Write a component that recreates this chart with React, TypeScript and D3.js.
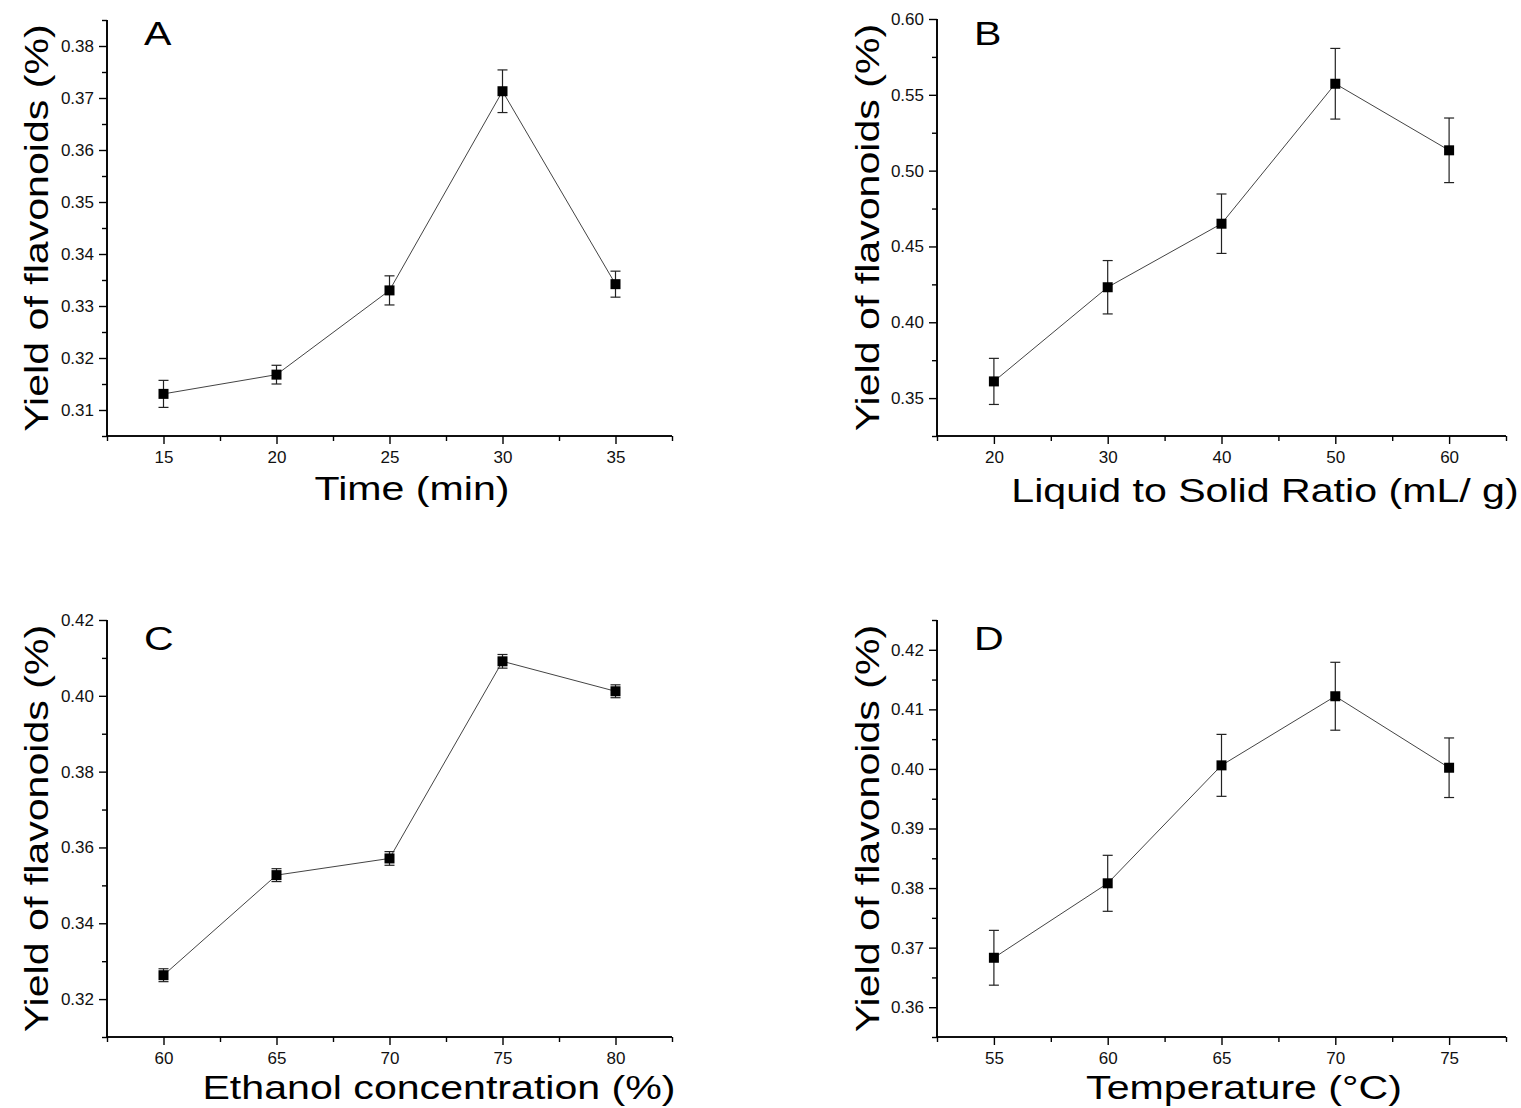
import React, { useEffect, useRef } from 'react';
import * as d3 from 'd3';

// Panel A: extraction time
const timeX = [15, 20, 25, 30, 35];
const timeY = [0.3131, 0.3168, 0.333, 0.3713, 0.3342];
const timeErr = [0.0026, 0.0018, 0.0028, 0.0041, 0.0025];
const timeYTicks = [0.31, 0.32, 0.33, 0.34, 0.35, 0.36, 0.37, 0.38];

// Panel B: liquid to solid ratio
const ratioX = [20, 30, 40, 50, 60];
const ratioY = [0.361, 0.4231, 0.465, 0.5573, 0.5134];
const ratioErr = [0.0152, 0.0176, 0.0196, 0.0233, 0.0213];
const ratioYTicks = [0.35, 0.4, 0.45, 0.5, 0.55, 0.6];

// Panel C: ethanol concentration
const ethanolX = [60, 65, 70, 75, 80];
const ethanolY = [0.3263, 0.3527, 0.3571, 0.4091, 0.4012];
const ethanolErr = [0.0017, 0.0017, 0.0018, 0.0018, 0.0017];
const ethanolYTicks = [0.32, 0.34, 0.36, 0.38, 0.4, 0.42];

// Panel D: temperature
const tempX = [55, 60, 65, 70, 75];
const tempY = [0.3683, 0.3808, 0.4006, 0.4122, 0.4002];
const tempErr = [0.0046, 0.0047, 0.0052, 0.0057, 0.005];
const tempYTicks = [0.36, 0.37, 0.38, 0.39, 0.4, 0.41, 0.42];

const yLabel = 'Yield of flavonoids (%)';

const panels = [
  {
    letter: 'A', xs: timeX, ys: timeY, errs: timeErr, yTicks: timeYTicks,
    xDomain: [12.5, 37.5], yDomain: [0.305, 0.385], xLabel: 'Time (min)',
    left: 107, top: 20, width: 565, height: 416, xLabelX: 412, xLabelY: 500, yLabelX: 48, letterY: 45,
  },
  {
    letter: 'B', xs: ratioX, ys: ratioY, errs: ratioErr, yTicks: ratioYTicks,
    xDomain: [15, 65], yDomain: [0.325, 0.6], xLabel: 'Liquid to Solid Ratio (mL/ g)',
    left: 937, top: 19, width: 569, height: 417, xLabelX: 1265, xLabelY: 502, yLabelX: 879, letterY: 45,
  },
  {
    letter: 'C', xs: ethanolX, ys: ethanolY, errs: ethanolErr, yTicks: ethanolYTicks,
    xDomain: [57.5, 82.5], yDomain: [0.31, 0.42], xLabel: 'Ethanol concentration (%)',
    left: 107, top: 620, width: 565, height: 417, xLabelX: 439, xLabelY: 1099, yLabelX: 48, letterY: 650,
  },
  {
    letter: 'D', xs: tempX, ys: tempY, errs: tempErr, yTicks: tempYTicks,
    xDomain: [52.5, 77.5], yDomain: [0.355, 0.425], xLabel: 'Temperature (°C)',
    left: 937, top: 620, width: 569, height: 417, xLabelX: 1244, xLabelY: 1099, yLabelX: 879, letterY: 650,
  },
];

const font = 'Arial, "Liberation Sans", sans-serif';
const wide = 1.21; // the original lettering is a bit wider than Arial

function App() {
  const svgRef = useRef(null);

  useEffect(() => {
    const svg = d3.select(svgRef.current);
    svg.selectAll('*').remove();

    panels.forEach((p) => {
      const x = d3.scaleLinear().domain(p.xDomain).range([p.left, p.left + p.width]);
      const y = d3.scaleLinear().domain(p.yDomain).range([p.top + p.height, p.top]);
      const g = svg.append('g');
      const bottom = p.top + p.height;

      // minor ticks halfway between majors
      const xStep = p.xs[1] - p.xs[0];
      const yStep = p.yTicks[1] - p.yTicks[0];
      const xMinor = d3.range(p.xs[0] - xStep / 2, p.xDomain[1] + 1e-9, xStep);
      const yMinor = d3.range(p.yTicks[0] - yStep / 2, p.yDomain[1] + 1e-9, yStep)
        .filter((v) => v >= p.yDomain[0] - 1e-9);

      const xAxis = d3.axisBottom(x).tickValues(p.xs).tickSize(8).tickPadding(7)
        .tickFormat(d3.format('d'));
      const xAxisMinor = d3.axisBottom(x).tickValues(xMinor).tickSize(5).tickFormat(() => '');
      const yAxis = d3.axisLeft(y).tickValues(p.yTicks).tickSize(8).tickPadding(5)
        .tickFormat(d3.format('.2f'));
      const yAxisMinor = d3.axisLeft(y).tickValues(yMinor).tickSize(5).tickFormat(() => '');

      [xAxisMinor, xAxis].forEach((ax) => {
        g.append('g').attr('transform', `translate(0,${bottom})`).call(ax)
          .call((s) => s.select('.domain').attr('stroke-width', 1.6).attr('d', `M${p.left},0H${p.left + p.width}`));
      });
      [yAxisMinor, yAxis].forEach((ax) => {
        g.append('g').attr('transform', `translate(${p.left},0)`).call(ax)
          .call((s) => s.select('.domain').attr('stroke-width', 1.6).attr('d', `M0,${bottom}V${p.top}`));
      });
      g.selectAll('.tick line').attr('stroke-width', 1.4);
      g.selectAll('.tick text').attr('font-family', font).attr('font-size', 17).attr('fill', '#111');

      // connecting line
      const line = d3.line()
        .x((d) => x(d[0]))
        .y((d) => y(d[1]));
      g.append('path')
        .attr('d', line(p.xs.map((v, i) => [v, p.ys[i]])))
        .attr('fill', 'none')
        .attr('stroke', '#444')
        .attr('stroke-width', 1);

      // error bars
      const eb = g.selectAll('.err').data(p.xs).enter().append('g');
      eb.append('line')
        .attr('x1', (d) => x(d)).attr('x2', (d) => x(d))
        .attr('y1', (d, i) => y(p.ys[i] + p.errs[i]))
        .attr('y2', (d, i) => y(p.ys[i] - p.errs[i]))
        .attr('stroke', '#222').attr('stroke-width', 1.2);
      [1, -1].forEach((sgn) => {
        eb.append('line')
          .attr('x1', (d) => x(d) - 5).attr('x2', (d) => x(d) + 5)
          .attr('y1', (d, i) => y(p.ys[i] + sgn * p.errs[i]))
          .attr('y2', (d, i) => y(p.ys[i] + sgn * p.errs[i]))
          .attr('stroke', '#222').attr('stroke-width', 1.2);
      });

      // square markers
      g.selectAll('.pt').data(p.xs).enter().append('rect')
        .attr('x', (d) => x(d) - 5)
        .attr('y', (d, i) => y(p.ys[i]) - 5)
        .attr('width', 10).attr('height', 10)
        .attr('fill', '#000');

      // labels
      g.append('text')
        .attr('transform', `translate(${p.xLabelX},${p.xLabelY}) scale(${wide},1)`)
        .attr('text-anchor', 'middle')
        .attr('font-family', font).attr('font-size', 34)
        .text(p.xLabel);
      g.append('text')
        .attr('transform', `translate(${p.yLabelX},${p.top + p.height / 2}) rotate(-90) scale(${wide},1)`)
        .attr('text-anchor', 'middle')
        .attr('font-family', font).attr('font-size', 34)
        .text(yLabel);
      g.append('text')
        .attr('transform', `translate(${p.left + 37},${p.letterY}) scale(${wide},1)`)
        .attr('font-family', font).attr('font-size', 34)
        .text(p.letter);
    });
  }, []);

  return (
    <svg
      ref={svgRef}
      width={1521}
      height={1108}
      style={{ position: 'absolute', left: 0, top: 0, background: '#fff' }}
    ></svg>
  );
}

export default App;
